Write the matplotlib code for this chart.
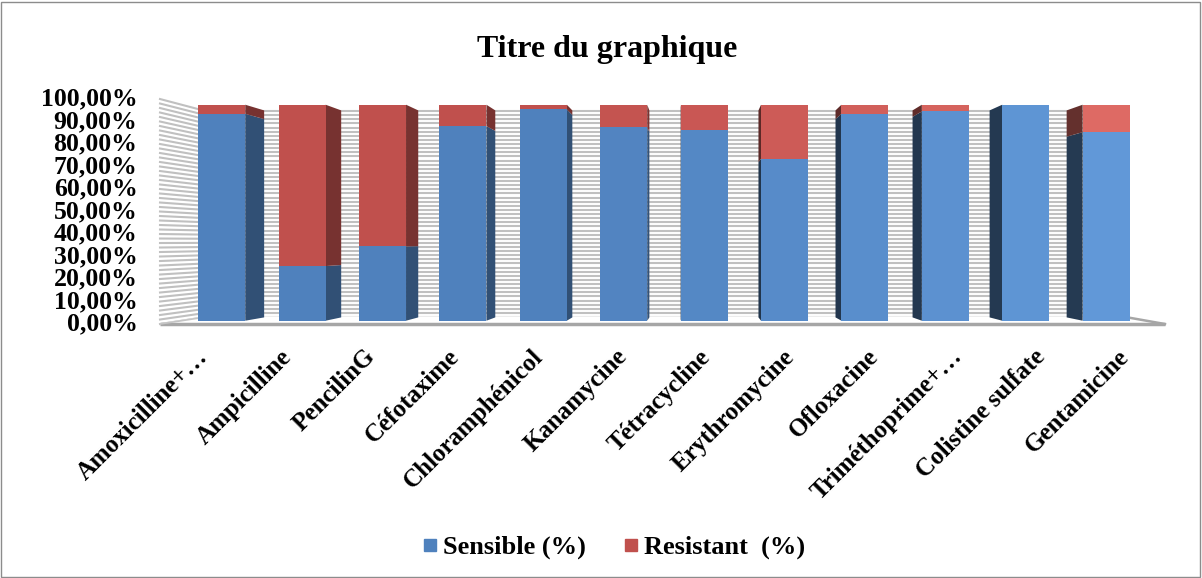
import matplotlib
matplotlib.use('Agg')
from matplotlib import pyplot as plt
from matplotlib.lines import Line2D
from matplotlib.patches import Rectangle
import numpy as np

categories = ['Amoxicilline+…', 'Ampicilline', 'PencilinG', 'Céfotaxime',
              'Chloramphénicol', 'Kanamycine', 'Tétracycline', 'Erythromycine',
              'Ofloxacine', 'Triméthoprime+…', 'Colistine sulfate', 'Gentamicine']
sensible = [95.8, 25.3, 34.4, 90.1, 97.8, 89.6, 88.1, 75.0, 95.8, 96.9, 100.0, 87.3]
resistant = [100 - s for s in sensible]
yticks = np.arange(0, 101, 10)
ytick_labels = ['%d,00%%' % v for v in yticks]

# fake 3d: perspective toward a vanishing point (data coords)
VX, VY = 5.935, 0.367
T_FRONT, T_BACK, T_WALL = 0.04, 0.08, 0.085
HALF = 0.292


def proj(x, y, t):
    x = np.asarray(x, float)
    y = np.asarray(y, float)
    return x + (VX - x) * t, y + (VY - y) * t


def mix(c1, c2, f):
    a = np.array(matplotlib.colors.to_rgb(c1))
    b = np.array(matplotlib.colors.to_rgb(c2))
    return tuple(a + (b - a) * f)


plt.rcParams['font.family'] = ['Liberation Serif', 'DejaVu Serif']
plt.rcParams['font.weight'] = 'bold'

fig = plt.figure(figsize=(12.02, 5.78), dpi=100)
ax = fig.add_axes([0.1157, 0.4005, 0.8709, 0.4749])
ax.set_xlim(-0.75, 11.75)
ax.set_ylim(-0.1, 1.12)
for s in ax.spines.values():
    s.set_visible(False)

n = len(categories)
x0, x1 = -0.5, n - 0.5

# back wall stripes + left side wall
for v in np.arange(0, 1.0001, 0.02):
    bx, by = proj([x0, x1], [v, v], T_WALL)
    ax.plot(bx, by, color='#c0c0c0', lw=1.5, zorder=1, solid_capstyle='butt')
    sx, sy = proj([x0, x0], [v, v], np.array([0, T_WALL]))
    ax.plot([x0, sx[1]], [v, sy[1]], color='#c0c0c0', lw=1.5, zorder=1)

# floor
fx, fy = proj([x1, x0], [0, 0], T_WALL)
ax.fill([x0, x1, fx[0], fx[1]], [0, 0, fy[0], fy[1]], color='white', zorder=2)
ax.plot([x0, x1], [0, 0], color='#a6a6a6', lw=2.5, zorder=2, solid_capstyle='butt')
ax.plot([x1, fx[0]], [0, fy[0]], color='#a6a6a6', lw=1.8, zorder=2)
ax.plot([x0, fx[1]], [0, fy[1]], color='#c4c4c4', lw=1.2, zorder=2)

fs = 1 - T_FRONT
for i in range(n):
    f = min(max((i - 4) / 7.0, 0), 1)
    blue = mix('#4f81bd', '#6198d8', f)
    red = mix('#c0504d', '#de6a64', f)
    segs = [(0, sensible[i] / 100, blue), (sensible[i] / 100, 1.0, red)]
    right_side = (i + HALF) < VX
    for lo, hi, col in segs:
        if hi - lo <= 0:
            continue
        # side face
        ex = i + HALF if right_side else i - HALF
        ax_, ay_ = proj([ex, ex], [lo, hi], T_FRONT)
        bx_, by_ = proj([ex, ex], [hi, lo], T_BACK)
        if right_side:
            side = mix(col, '#000000', 0.38)
        else:
            side = mix(col, '#000000', 0.62 if col == blue else 0.55)
        ax.fill(list(ax_) + list(bx_), list(ay_) + list(by_), color=side, lw=0, zorder=3)
        # front face
        cx, by0 = proj(i, lo, T_FRONT)
        ax.bar(cx, (hi - lo) * fs, width=2 * HALF * fs, bottom=by0, color=col,
               lw=0, zorder=4)

ax.set_xticks([])
ax.set_yticks([])
for v, lab in zip(yticks, ytick_labels):
    ax.text(-0.77, v / 100, lab, ha='right', va='center', fontsize=18.5,
            fontweight='bold')

for i, lab in enumerate(categories):
    ax.text(i + 0.03, -0.13, lab, ha='right', va='center', rotation=45,
            rotation_mode='anchor', fontsize=18, fontweight='bold')

fig.text(0.505, 0.915, 'Titre du graphique', ha='center', va='center',
         fontsize=23, fontweight='bold')

handles = [Line2D([], [], marker='s', ls='', color='#4f81bd', markersize=9),
           Line2D([], [], marker='s', ls='', color='#c0504d', markersize=9)]
fig.legend(handles, ['Sensible (%)', 'Resistant  (%)'], loc='center',
           bbox_to_anchor=(0.508, 0.053), ncol=2, frameon=False,
           prop={'size': 19, 'weight': 'bold'}, handletextpad=0.0,
           columnspacing=1.2, handlelength=1.0)

fig.patches.append(Rectangle((0.001, 0.002), 0.997, 0.995, transform=fig.transFigure,
                             fill=False, edgecolor='#8c8c8c', lw=1))

fig.savefig('out.png', dpi=100)
